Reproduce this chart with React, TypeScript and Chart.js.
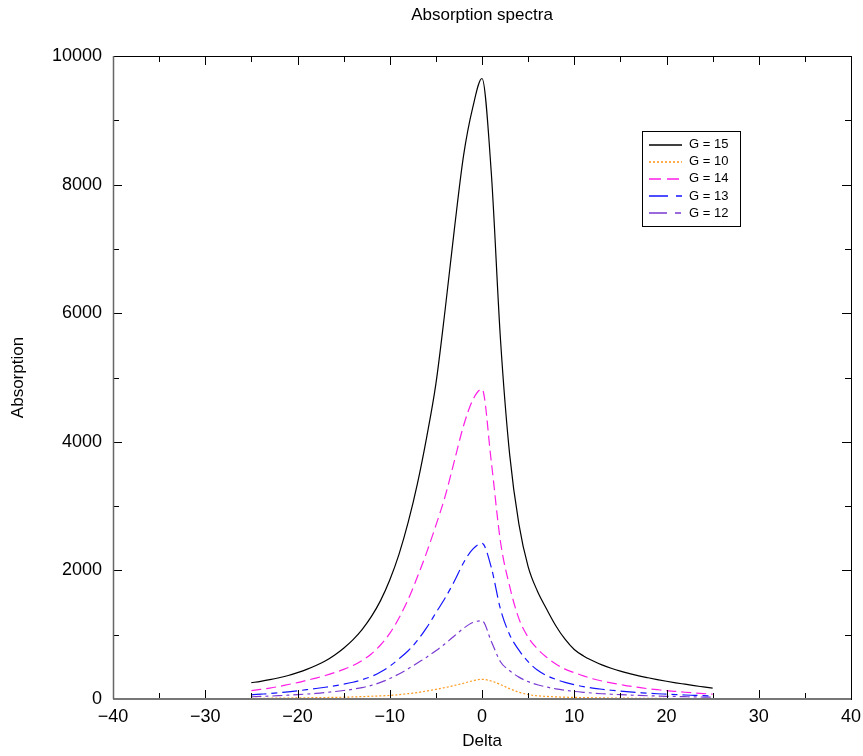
import React, { useEffect, useRef } from 'react';
import { Chart, registerables } from 'chart.js';

Chart.register(...registerables);

// Delta values (x) shared by all series
const deltas = [
  -25, -24, -23, -22, -21, -20, -19, -18, -17, -16, -15, -14, -13, -12, -11, -10,
  -9, -8, -7, -6, -5, -4, -3, -2, -1, 0, 1, 2, 3, 4, 5, 6, 7, 8, 9, 10,
  11, 12, 13, 14, 15, 16, 17, 18, 19, 20, 21, 22, 23, 24, 25,
];

const g15 = [
  254, 275, 300, 330, 365, 410, 460, 520, 590, 680, 790, 920, 1080, 1280, 1530, 1850,
  2250, 2750, 3350, 4070, 4900, 6050, 7300, 8450, 9200, 9650, 8200, 5600, 3800, 2720, 2060, 1680, 1400, 1140, 930, 770,
  670, 595, 530, 478, 433, 395, 360, 330, 302, 276, 252, 230, 208, 188, 168,
];

const g10 = [
  10, 11, 12, 14, 15, 17, 19, 21, 23, 25, 28, 32, 37, 43, 48, 55,
  68, 83, 100, 125, 150, 178, 210, 245, 283, 306, 280, 225, 160, 105, 70, 50, 40, 33, 28, 25,
  22, 19, 17, 15, 13, 12, 11, 10, 9, 8, 7, 7, 6, 6, 5,
];

const g14 = [
  130, 150, 170, 195, 225, 255, 290, 325, 365, 410, 460, 520, 600, 700, 840, 1020,
  1260, 1550, 1900, 2280, 2700, 3150, 3700, 4250, 4650, 4820, 3700, 2450, 1750, 1250, 960, 780, 650, 545, 465, 410,
  360, 315, 280, 250, 225, 200, 180, 160, 145, 130, 118, 105, 95, 85, 75,
];

const g13 = [
  65, 75, 85, 98, 112, 128, 145, 163, 183, 205, 230, 260, 300, 350, 420, 510,
  625, 750, 910, 1110, 1340, 1570, 1830, 2120, 2330, 2420, 2050, 1400, 1000, 760, 580, 450, 365, 305, 258, 222,
  192, 170, 152, 136, 122, 110, 100, 90, 82, 75, 68, 62, 57, 52, 48,
];

const g12 = [
  35, 40, 45, 52, 60, 68, 77, 87, 100, 115, 132, 152, 178, 212, 258, 318,
  390, 470, 560, 650, 750, 860, 980, 1100, 1190, 1218, 900, 580, 440, 340, 270, 222, 186, 158, 136, 118,
  104, 92, 82, 74, 67, 61, 55, 50, 46, 42, 39, 36, 33, 30, 28,
];

const seriesLabels = ['G = 15', 'G = 10', 'G = 14', 'G = 13', 'G = 12'];
const seriesValues = [g15, g10, g14, g13, g12];
const seriesColors = ['#000000', '#ff9a1e', '#ff1ee6', '#1414ff', '#7a3ad2'];
const seriesDashes: number[][] = [[], [2, 2], [10, 5], [15, 5, 6, 5], [10, 4, 3, 4]];
const legendDashes: number[][] = [[], [2, 2], [12, 6], [19, 8, 6, 8], [18, 8, 6, 8]];

const xMajorTicks = [-40, -30, -20, -10, 0, 10, 20, 30, 40];
const xMinorTicks = [-35, -25, -15, -5, 5, 15, 25, 35];
const yMajorTicks = [0, 2000, 4000, 6000, 8000, 10000];
const yMinorTicks = [1000, 3000, 5000, 7000, 9000];

const FONT = '"Liberation Sans", Arial, Helvetica, sans-serif';

const framePlugin = {
  id: 'frameTicks',
  afterDatasetsDraw(chart: any) {
    const { ctx, chartArea: a, scales } = chart;
    const xs = scales.x;
    const ys = scales.y;
    ctx.save();
    ctx.strokeStyle = '#000';
    ctx.lineWidth = 1;
    const tick = (x1: number, y1: number, x2: number, y2: number) => {
      ctx.beginPath();
      ctx.moveTo(x1, y1);
      ctx.lineTo(x2, y2);
      ctx.stroke();
    };
    const majorLen = 9;
    const minorLen = 6;
    xMajorTicks.forEach((v) => {
      const px = Math.round(xs.getPixelForValue(v)) + 0.5;
      tick(px, a.bottom, px, a.bottom - majorLen);
      tick(px, a.top, px, a.top + majorLen);
    });
    xMinorTicks.forEach((v) => {
      const px = Math.round(xs.getPixelForValue(v)) + 0.5;
      tick(px, a.bottom, px, a.bottom - minorLen);
      tick(px, a.top, px, a.top + minorLen);
    });
    yMajorTicks.forEach((v) => {
      const py = Math.round(ys.getPixelForValue(v)) + 0.5;
      tick(a.left, py, a.left + majorLen, py);
      tick(a.right, py, a.right - majorLen, py);
    });
    yMinorTicks.forEach((v) => {
      const py = Math.round(ys.getPixelForValue(v)) + 0.5;
      tick(a.left, py, a.left + minorLen, py);
      tick(a.right, py, a.right - minorLen, py);
    });
    // frame
    ctx.strokeRect(Math.round(a.left) + 0.5, Math.round(a.top) + 0.5, Math.round(a.right - a.left), Math.round(a.bottom - a.top));
    ctx.strokeStyle = '#777';
    ctx.lineWidth = 2;
    ctx.beginPath();
    ctx.moveTo(a.left, a.bottom);
    ctx.lineTo(a.right, a.bottom);
    ctx.stroke();
    ctx.strokeStyle = '#666';
    ctx.lineWidth = 1.5;
    ctx.beginPath();
    ctx.moveTo(a.left + 0.5, a.top);
    ctx.lineTo(a.left + 0.5, a.bottom);
    ctx.stroke();
    ctx.restore();
  },
};

const boxLegendPlugin = {
  id: 'boxLegend',
  afterDraw(chart: any) {
    const { ctx } = chart;
    const left = 642;
    const top = 131;
    const w = 98;
    const h = 95;
    ctx.save();
    ctx.fillStyle = '#fff';
    ctx.fillRect(left, top, w, h);
    ctx.strokeStyle = '#000';
    ctx.lineWidth = 1;
    ctx.strokeRect(left + 0.5, top + 0.5, w, h);
    ctx.font = '13px ' + FONT;
    ctx.textBaseline = 'middle';
    ctx.textAlign = 'left';
    seriesLabels.forEach((label, i) => {
      const y = top + 13.5 + i * 17.2;
      ctx.strokeStyle = seriesColors[i];
      ctx.lineWidth = 1.6;
      ctx.setLineDash(legendDashes[i]);
      ctx.beginPath();
      ctx.moveTo(649, Math.round(y));
      ctx.lineTo(682, Math.round(y));
      ctx.stroke();
      ctx.setLineDash([]);
      ctx.fillStyle = '#000';
      ctx.fillText(label, 689, y);
    });
    ctx.restore();
  },
};

export default function App() {
  const ref = useRef<HTMLCanvasElement | null>(null);
  useEffect(() => {
    if (!ref.current) return;
    const datasets = seriesLabels.map((label, i) => ({
      label,
      data: deltas.map((d, j) => ({ x: d, y: seriesValues[i][j] })),
      borderColor: seriesColors[i],
      backgroundColor: seriesColors[i],
      borderDash: seriesDashes[i],
      borderWidth: 1.2,
      pointRadius: 0,
      fill: false,
      cubicInterpolationMode: 'monotone' as const,
    }));
    const chart = new Chart(ref.current, {
      type: 'line',
      data: { datasets },
      options: {
        animation: false,
        responsive: false,
        maintainAspectRatio: false,
        layout: { padding: { left: 0, right: 12, top: 0, bottom: 0 } },
        plugins: {
          legend: { display: false },
          tooltip: { enabled: false },
          title: {
            display: true,
            fullSize: false,
            text: 'Absorption spectra',
            color: '#000',
            font: { family: FONT, size: 17, weight: 'normal' },
            padding: { top: 5, bottom: 30.6 },
          },
        },
        scales: {
          x: {
            type: 'linear',
            min: -40,
            max: 40,
            grid: { display: false, drawTicks: false },
            border: { display: false },
            ticks: {
              stepSize: 10,
              color: '#000',
              font: { family: FONT, size: 18 },
              padding: 7,
              maxRotation: 0,
              callback: (v: any) => String(v).replace('-', '\u2212'),
            },
            title: {
              display: true,
              text: 'Delta',
              color: '#000',
              font: { family: FONT, size: 17 },
              padding: { top: 0, bottom: 4 },
            },
            afterFit: (s: any) => {
              s.height = 57;
              s.paddingLeft = 0;
              s.paddingRight = 0;
            },
          },
          y: {
            type: 'linear',
            min: 0,
            max: 10000,
            grid: { display: false, drawTicks: false },
            border: { display: false },
            ticks: {
              stepSize: 2000,
              color: '#000',
              font: { family: FONT, size: 18 },
              padding: 11,
              callback: (v: any) => String(v),
            },
            title: {
              display: true,
              text: 'Absorption',
              color: '#000',
              font: { family: FONT, size: 17 },
              padding: { top: 8, bottom: 0 },
            },
            afterFit: (s: any) => {
              s.width = 113;
              s.paddingTop = 0;
              s.paddingBottom = 0;
            },
          },
        },
      },
      plugins: [framePlugin, boxLegendPlugin],
    });
    return () => chart.destroy();
  }, []);
  return (
    <div style={{ position: 'absolute', left: 0, top: 0, width: 863, height: 756, background: '#fff' }}>
      <canvas ref={ref} width={863} height={756} style={{ display: 'block' }} />
    </div>
  );
}
